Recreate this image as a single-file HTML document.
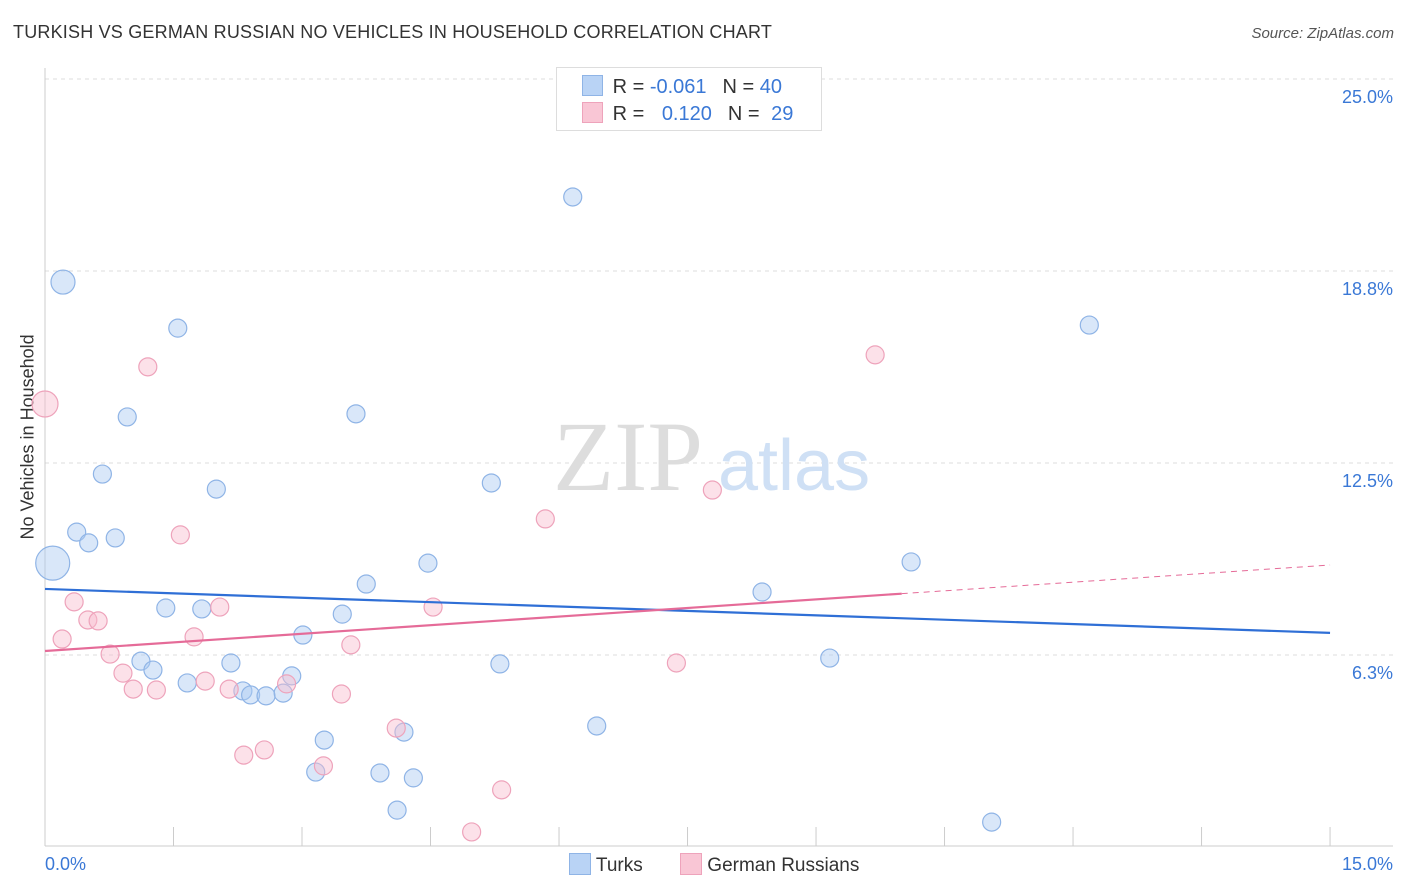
<!DOCTYPE html>
<html><head><meta charset="utf-8">
<style>
body{margin:0;background:#fff;font-family:"Liberation Sans",sans-serif;}
#wrap{position:relative;width:1406px;height:892px;overflow:hidden;}
.t{position:absolute;white-space:nowrap;}
</style></head><body>
<div id="wrap">
<div class="t" style="left:13px;top:22px;font-size:18px;color:#333;letter-spacing:0.2px;">TURKISH VS GERMAN RUSSIAN NO VEHICLES IN HOUSEHOLD CORRELATION CHART</div>
<div class="t" style="right:12px;top:25px;font-size:15px;color:#555;font-style:italic;">Source: ZipAtlas.com</div>
<div class="t" style="left:-57px;top:444px;font-size:18px;color:#333;transform:rotate(-90deg);width:170px;text-align:center;">No Vehicles in Household</div>
<svg id="svg" width="1406" height="892" style="position:absolute;left:0;top:0"></svg>
</div>
<script>
const turksX=[0.21,1.55,0.96,0.67,3.63,2.0,0.37,0.51,0.82,0.09,6.16,12.19,5.21,4.47,3.75,10.11,8.37,1.41,1.83,3.47,3.01,1.12,1.26,2.17,5.31,9.16,1.66,2.31,2.40,2.58,2.78,2.88,6.44,4.19,3.26,3.16,3.91,4.30,4.11,11.05];
const turksY=[18.39,16.89,14.0,12.14,14.1,11.65,10.25,9.9,10.06,9.24,21.16,16.99,11.85,9.24,8.56,9.28,8.3,7.78,7.75,7.58,6.9,6.05,5.76,5.99,5.96,6.15,5.34,5.08,4.95,4.92,5.01,5.57,3.94,3.74,3.48,2.44,2.41,2.25,1.2,0.81];
const turksSize=[12,9,9,9,9,9,9,9,9,17,9,9,9,9,9,9,9,9,9,9,9,9,9,9,9,9,9,9,9,9,9,9,9,9,9,9,9,9,9,9];
const grX=[0,1.2,9.69,7.79,5.84,1.58,0.34,0.5,0.62,2.04,4.53,0.2,1.74,3.57,0.76,7.37,0.91,1.03,1.30,1.87,2.15,2.82,3.46,4.10,2.56,2.32,3.25,5.33,4.98];
const grY=[14.42,15.63,16.02,11.62,10.68,10.16,7.98,7.39,7.36,7.81,7.81,6.77,6.84,6.58,6.28,5.99,5.66,5.14,5.11,5.4,5.14,5.31,4.98,3.87,3.16,2.99,2.64,1.86,0.49];
const grSize=[13,9,9,9,9,9,9,9,9,9,9,9,9,9,9,9,9,9,9,9,9,9,9,9,9,9,9,9,9];
const turksTrend=[8.40,6.97];
const grTrend=[6.38,9.18];
const grSolidEnd=10.0;
const yTicks=[6.25,12.5,18.75,25];
const yTickLabels=["6.3%","12.5%","18.8%","25.0%"];
const xTicks=[0,1.5,3,4.5,6,7.5,9,10.5,12,13.5,15];

const sx=v=>45+v*85.67;
const sy=v=>847-v*30.72;
const svg=document.getElementById('svg');
const NS='http://www.w3.org/2000/svg';
function mk(tag,attrs){const e=document.createElementNS(NS,tag);for(const k in attrs)e.setAttribute(k,attrs[k]);svg.appendChild(e);return e;}

yTicks.forEach((v,i)=>{
  const g=mk('line',{x1:45,x2:1393,y1:sy(v),y2:sy(v),stroke:'#ddd','stroke-dasharray':'4,4'});
  
  
  const t=mk('text',{x:1393,y:sy(v)+24,'text-anchor':'end','font-size':18,fill:'#3a78d6','font-family':'Liberation Sans'});
  t.textContent=yTickLabels[i];
  
  
});
const ax=mk('line',{x1:45,x2:45,y1:68,y2:846,stroke:'#ccc'});


const bx=mk('line',{x1:45,x2:1393,y1:846,y2:846,stroke:'#ccc'});


xTicks.forEach(v=>{
  const l=mk('line',{x1:sx(v),x2:sx(v),y1:827,y2:846,stroke:'#ccc'});
  
  
});
const xl0=mk('text',{x:45,y:870,'font-size':18,fill:'#3a78d6','font-family':'Liberation Sans'});
xl0.textContent='0.0%';


const xl1=mk('text',{x:1393,y:870,'text-anchor':'end','font-size':18,fill:'#3a78d6','font-family':'Liberation Sans'});
xl1.textContent='15.0%';



const w1=mk('text',{x:553,y:490,'font-size':100,fill:'#ddd','font-family':'Liberation Serif'});
w1.textContent='ZIP';


const w2=mk('text',{x:718,y:490,'font-size':72,fill:'#cfe0f5','font-family':'Liberation Sans'});
w2.textContent='atlas';



turksX.forEach((x,i)=>{
  const c=mk('circle',{cx:sx(x),cy:sy(turksY[i]),r:turksSize[i],fill:'rgba(170,202,242,0.45)',stroke:'#8fb4e6','stroke-width':1.2});
  
  
});
grX.forEach((x,i)=>{
  const c=mk('circle',{cx:sx(x),cy:sy(grY[i]),r:grSize[i],fill:'rgba(248,188,206,0.45)',stroke:'#eea3bb','stroke-width':1.2});
  
  
});
const tl=mk('line',{x1:sx(0),y1:sy(turksTrend[0]),x2:sx(15),y2:sy(turksTrend[1]),stroke:'#2f6fd6','stroke-width':2.2});


const gm=grTrend[0]+(grTrend[1]-grTrend[0])*grSolidEnd/15;
const gl=mk('line',{x1:sx(0),y1:sy(grTrend[0]),x2:sx(grSolidEnd),y2:sy(gm),stroke:'#e56b98','stroke-width':2.2});


const gd=mk('line',{x1:sx(grSolidEnd),y1:sy(gm),x2:sx(15),y2:sy(grTrend[1]),stroke:'#e56b98','stroke-width':1,'stroke-dasharray':'6,5'});


</script>
<div class="t" style="left:556px;top:67px;width:264px;height:62px;border:1px solid #ddd;background:#fff;font-size:20px;color:#333;">
  <div style="position:absolute;left:25px;top:7px;">
    <span style="display:inline-block;width:19px;height:19px;background:#b9d3f5;border:1px solid #8fb4e6;vertical-align:-3px;"></span>
    <span style="margin-left:4px;">R = </span><span style="color:#3a78d6">-0.061</span><span style="margin-left:16px;">N = </span><span style="color:#3a78d6">40</span>
  </div>
  <div style="position:absolute;left:25px;top:34px;">
    <span style="display:inline-block;width:19px;height:19px;background:#f9c6d5;border:1px solid #eea3bb;vertical-align:-3px;"></span>
    <span style="margin-left:4px;">R = </span><span style="color:#3a78d6;margin-left:12px;">0.120</span><span style="margin-left:16px;">N = </span><span style="color:#3a78d6;margin-left:6px;">29</span>
  </div>
</div>
<div class="t" style="left:569px;top:853px;font-size:19px;color:#333;">
  <span><span style="display:inline-block;width:20px;height:20px;background:#b9d3f5;border:1px solid #8fb4e6;vertical-align:-4px;"></span> Turks</span>
  <span style="margin-left:32px;"><span style="display:inline-block;width:20px;height:20px;background:#f9c6d5;border:1px solid #eea3bb;vertical-align:-4px;"></span> German Russians</span>
</div>
</body></html>
